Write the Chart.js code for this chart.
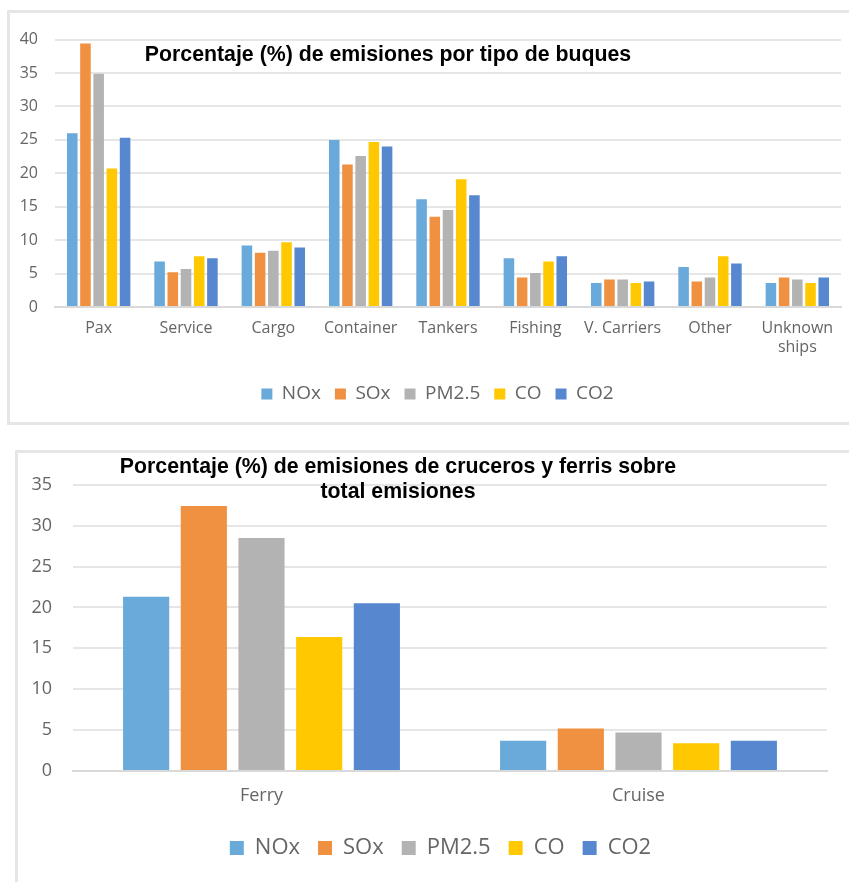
<!DOCTYPE html>
<html>
<head>
	<meta charset="utf-8">
	<script type="text/javascript" src="https://cdn.jsdelivr.net/npm/chart.js@4.4.1/dist/chart.umd.min.js"></script>
	<style>
		body { margin: 0; background: #fff; overflow: hidden; width: 849px; height: 882px; }
		.panel { position: absolute; border: 3px solid #e6e6e6; background: #fff; }
		.titulo { position: absolute; text-align: center; font-family: "Liberation Sans", Arial, sans-serif;
			font-weight: bold; font-size: 21.3px; color: #000; pointer-events: none; }
	</style>
</head>

<body>
	<div class="panel" style="left: 7px; top: 10px; width: 860px; height: 409px;">
		<canvas id="chartTipo" width="839" height="409"></canvas>
	</div>
	<div class="titulo" style="left: 88px; top: 42px; width: 600px; line-height: 24px;">Porcentaje (%) de emisiones por tipo de buques</div>

	<div class="panel" style="left: 15px; top: 450px; width: 860px; height: 440px;">
		<canvas id="chartPasaje" width="831" height="429"></canvas>
	</div>
	<div class="titulo" style="left: 98px; top: 454px; width: 600px; line-height: 25px;">Porcentaje (%) de emisiones de cruceros y ferris sobre<br>total emisiones</div>

	<script type="text/javascript">
		// emisiones por tipo de buque (%)
		var tipos = ['Pax', 'Service', 'Cargo', 'Container', 'Tankers', 'Fishing', 'V. Carriers', 'Other', ['Unknown', 'ships']];
		var noxTipo = [26.0, 6.8, 9.2, 25.0, 16.1, 7.3, 3.6, 6.0, 3.6];
		var soxTipo = [39.4, 5.2, 8.1, 21.3, 13.5, 4.4, 4.1, 3.8, 4.4];
		var pmTipo = [34.9, 5.7, 8.4, 22.6, 14.5, 5.1, 4.1, 4.4, 4.1];
		var coTipo = [20.7, 7.6, 9.7, 24.7, 19.1, 6.8, 3.6, 7.6, 3.6];
		var co2Tipo = [25.3, 7.3, 8.9, 24.0, 16.7, 7.6, 3.8, 6.5, 4.4];

		// cruceros y ferris sobre el total (%)
		var pasaje = ['Ferry', 'Cruise'];
		var noxPasaje = [21.3, 3.7];
		var soxPasaje = [32.4, 5.2];
		var pmPasaje = [28.5, 4.7];
		var coPasaje = [16.4, 3.4];
		var co2Pasaje = [20.5, 3.7];

		var contaminantes = ['NOx', 'SOx', 'PM2.5', 'CO', 'CO2'];
		var colores = ['#6aaadb', '#f09142', '#b3b3b3', '#ffc800', '#5687cf'];
		var gris = '#656565';

		// mueve la leyenda en horizontal despues del layout
		var moverLeyenda = {
			id: 'moverLeyenda',
			afterLayout: function(chart, args, opts) {
				if (chart.legend && opts.dx) {
					chart.legend.left += opts.dx;
					chart.legend.right += opts.dx;
				}
			}
		};

		function makeDatasets(series, catPct) {
			var ds = [];
			for (var i = 0; i < series.length; i++) {
				ds.push({
					label: contaminantes[i],
					data: series[i],
					backgroundColor: colores[i],
					borderWidth: 0,
					categoryPercentage: catPct,
					barPercentage: 0.8
				});
			}
			return ds;
		}

		function drawChart(id, labels, series, cfg) {
			var ctx = document.getElementById(id).getContext('2d');
			return new Chart(ctx, {
				type: 'bar',
				data: {
					labels: labels,
					datasets: makeDatasets(series, cfg.catPct)
				},
				plugins: [moverLeyenda],
				options: {
					responsive: false,
					animation: false,
					devicePixelRatio: 1,
					layout: { padding: cfg.padding },
					plugins: {
						title: { display: false },
						tooltip: { enabled: false },
						moverLeyenda: { dx: cfg.legendDx },
						legend: {
							position: 'bottom',
							labels: {
								boxWidth: cfg.box,
								boxHeight: cfg.box,
								padding: cfg.legendPad,
								color: gris,
								font: { family: 'Open Sans', size: cfg.legendFont }
							}
						}
					},
					scales: {
						x: {
							grid: { display: false, drawTicks: false },
							border: { display: true, color: '#d9d9d9', width: 2 },
							ticks: {
								color: gris,
								padding: cfg.xPad,
								maxRotation: 0,
								autoSkip: false,
								font: { family: 'Open Sans', size: cfg.tickFont }
							},
							afterFit: function(scale) { scale.height = cfg.xHeight; }
						},
						y: {
							min: 0,
							max: cfg.max,
							grid: { color: '#e6e6e6', lineWidth: 2, drawTicks: false },
							border: { display: false },
							ticks: {
								stepSize: 5,
								color: gris,
								padding: cfg.yPad,
								font: { family: 'Open Sans', size: cfg.yFont }
							},
							afterFit: function(scale) { scale.width = cfg.yWidth; }
						}
					}
				}
			});
		}

		drawChart('chartTipo', tipos, [noxTipo, soxTipo, pmTipo, coTipo, co2Tipo], {
			catPct: 0.756, max: 40,
			padding: { top: 22, right: 8, bottom: 8.5, left: 0 },
			yWidth: 45, yPad: 17, yFont: 16,
			xHeight: 63.5, xPad: 12, tickFont: 16,
			box: 11, legendPad: 14, legendFont: 19, legendDx: 12
		});

		drawChart('chartPasaje', pasaje, [noxPasaje, soxPasaje, pmPasaje, coPasaje, co2Pasaje], {
			catPct: 0.765, max: 35,
			padding: { top: 27, right: 22, bottom: 13, left: 0 },
			yWidth: 55, yPad: 21, yFont: 18,
			xHeight: 48, xPad: 14, tickFont: 18,
			box: 14, legendPad: 18, legendFont: 22, legendDx: 18
		});
	</script>
</body>
</html>
